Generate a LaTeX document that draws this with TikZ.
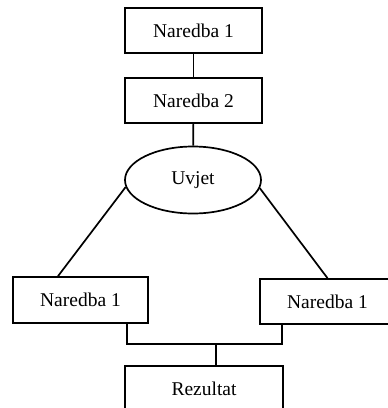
\documentclass[tikz,border=0pt]{standalone}
\usepackage{fontspec}
\setmainfont{Liberation Serif}
\usetikzlibrary{shapes.geometric}
\begin{document}
\begin{tikzpicture}[x=1pt,y=-1pt,
  txt/.style={font=\fontsize{19.5}{22}\selectfont},
  box/.style={draw,line width=1.7pt,inner sep=0pt,minimum height=45pt,txt},
  oval/.style={ellipse,draw,line width=1.7pt,inner sep=0pt,minimum width=136pt,minimum height=67pt,txt},
  conn/.style={line width=1.7pt}]
\useasboundingbox (0,0) rectangle (388,408);
\clip (0,0) rectangle (388,408);
\node[box,minimum width=137pt] (n1) at (193.5,30.5) {Naredba 1};
\node[box,minimum width=137pt] (n2) at (193.5,100.5) {Naredba 2};
\node[oval] (u) at (193,180) {Uvjet};
\node[box,minimum width=135pt,minimum height=46pt] (l) at (80.5,300) {Naredba 1};
\node[box,minimum width=135pt] (r) at (327.5,301.5) {Naredba 1};
\node[box,minimum width=158pt,minimum height=46pt] (z) at (204,389) {Rezultat};
\coordinate (j) at (216,343);
\draw[conn] (n1) -- (n2);
\draw[conn] (n2) -- (u);
\draw[conn] (u.186) -- ([xshift=-22.5pt]l.north);
\draw[conn] (u.353) -- (r.north);
\draw[conn] ([xshift=-22pt]l.south east) -- ++(0,20) -| ([xshift=23pt]r.south west);
\draw[conn] (j) -- (j |- z.north);
\end{tikzpicture}
\end{document}
